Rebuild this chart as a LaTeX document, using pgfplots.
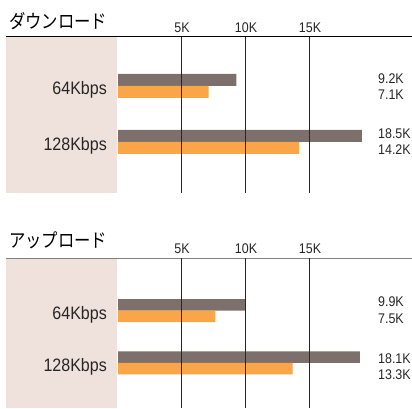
\documentclass[border=0pt]{standalone}
\usepackage{fontspec}
\setmainfont{Liberation Sans}
\newfontfamily\cond[FakeStretch=0.89]{Liberation Sans}
\newfontfamily\jp[FakeStretch=0.86]{Noto Sans CJK JP}
\usepackage{pgfplots}
\pgfplotsset{compat=1.18}

\definecolor{bargrey}{RGB}{125,112,108}
\definecolor{barorange}{RGB}{249,165,72}
\definecolor{band}{RGB}{239,225,219}

\pgfplotsset{
  panel/.style={
    scale only axis,
    width=294pt,
    xmin=0, xmax=22.97,
    axis line style={draw=none},
    tick style={draw=none},
    axis on top,
    clip=false,
    xmajorgrids,
    grid style={black!85, line width=1pt},
    xtick={5,10,15},
    xticklabels={5K,10K,15K},
    xticklabel pos=upper,
    ytick={0,1},
    yticklabels={128Kbps,64Kbps},
    /pgf/number format/assume math mode=true,
    xticklabel style={font=\cond\fontsize{14}{16}\selectfont, text=black!85,
      anchor=south, inner sep=0pt, yshift=4pt},
    yticklabel style={font=\cond\fontsize{18}{20}\selectfont, text=black!85,
      anchor=east, inner sep=0pt, xshift=-11pt, yshift=-4pt},
  },
  vals/.style={draw=none, mark=none, nodes near coords, point meta=explicit symbolic,
    nodes near coords style={anchor=west, inner sep=0pt,
      font=\cond\fontsize{14}{16}\selectfont, text=black!85}},
}

\begin{document}
\begin{tikzpicture}
\path[use as bounding box] (0pt,0pt) rectangle (412pt,409pt);

% top panel
\fill[band] (6pt,371.5pt) rectangle (117pt,216pt);
\draw[black, line width=1pt] (6pt,372pt) -- (412pt,372pt);
\node[anchor=west, inner sep=0pt] at (9pt,388pt) {\jp\fontsize{19}{21}\selectfont ダウンロード};

\begin{axis}[panel, at={(118pt,216pt)}, anchor=south west, height=156pt,
  ymin=-0.911, ymax=1.875]
\addplot[xbar, bar width=12pt, bar shift=6pt, fill=bargrey, draw=none]
  coordinates {(9.25,1) (19.06,0)};
\addplot[xbar, bar width=12pt, bar shift=-6pt, fill=barorange, draw=none]
  coordinates {(7.08,1) (14.16,0)};
\addplot[vals] coordinates {(20.31,1.1375)[9.2K] (20.31,0.839)[7.1K] (20.31,0.155)[18.5K] (20.31,-0.143)[14.2K]};
\end{axis}

% bottom panel
\fill[band] (6pt,150pt) rectangle (117pt,1pt);
\draw[black!50, line width=1.5pt] (6pt,150.7pt) -- (412pt,150.7pt);
\node[anchor=west, inner sep=0pt] at (9pt,169pt) {\jp\fontsize{19}{21}\selectfont アップロード};

\begin{axis}[panel, at={(118pt,1pt)}, anchor=south west, height=149.7pt,
  ymin=-0.86, ymax=2.0]
\addplot[xbar, bar width=11.5pt, bar shift=5.75pt, fill=bargrey, draw=none]
  coordinates {(10.0,1) (18.9,0)};
\addplot[xbar, bar width=11.5pt, bar shift=-5.75pt, fill=barorange, draw=none]
  coordinates {(7.6,1) (13.65,0)};
\addplot[vals] coordinates {(20.31,1.172)[9.9K] (20.31,0.836)[7.5K] (20.31,0.09)[18.1K] (20.31,-0.23)[13.3K]};
\end{axis}
\end{tikzpicture}
\end{document}
